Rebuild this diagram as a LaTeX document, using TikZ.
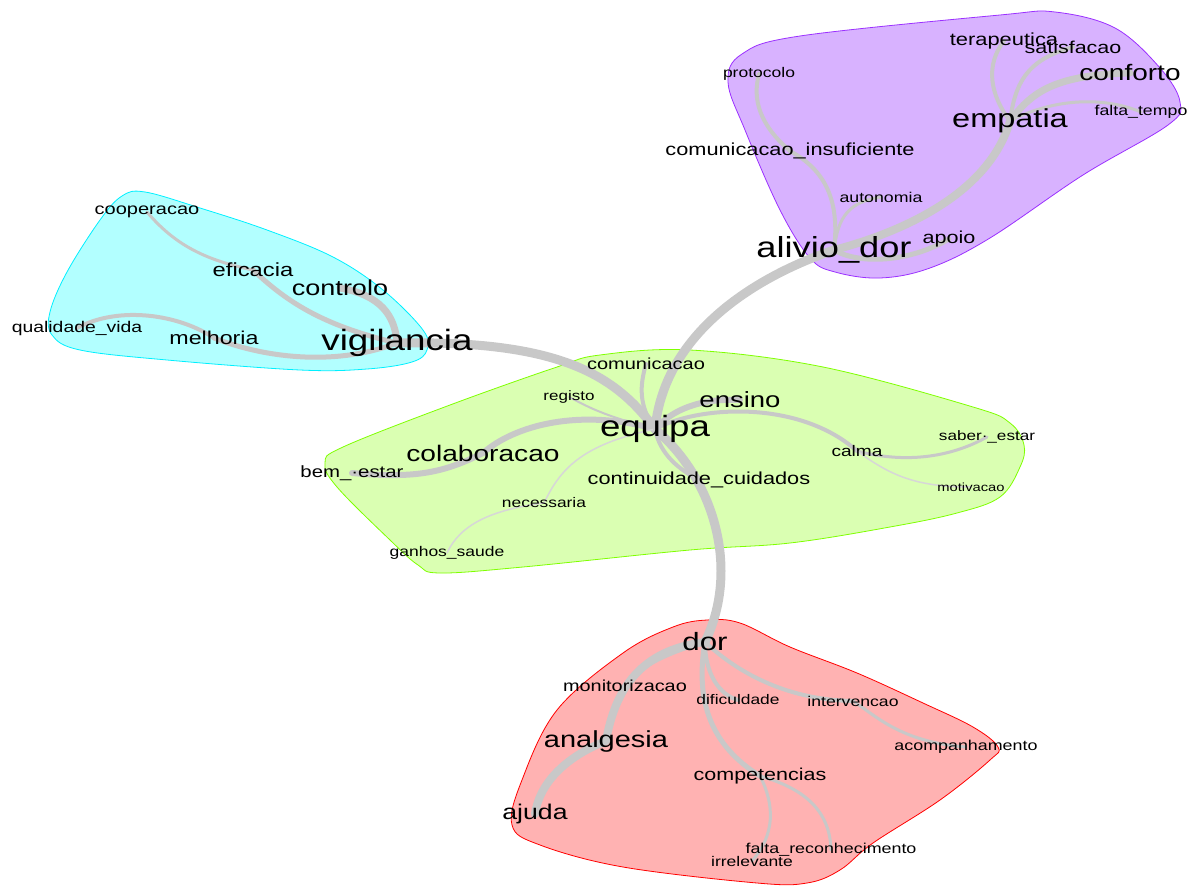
\documentclass[tikz,border=0pt]{standalone}
\usepackage{fontspec}
\setmainfont{Liberation Sans}[FakeStretch=1.25]
\definecolor{edgegray}{RGB}{200,200,200}
\definecolor{edgelight}{RGB}{215,215,215}
\definecolor{purplefill}{RGB}{216,178,255}
\definecolor{purpleline}{RGB}{155,48,255}
\definecolor{cyanfill}{RGB}{178,255,255}
\definecolor{cyanline}{RGB}{0,240,255}
\definecolor{greenfill}{RGB}{218,255,178}
\definecolor{greenline}{RGB}{127,255,0}
\definecolor{redfill}{RGB}{255,178,178}
\definecolor{redline}{RGB}{255,0,0}
\pgfdeclarelayer{hulls}
\pgfdeclarelayer{edges}
\pgfsetlayers{hulls,edges,main}
\tikzset{
  lbl/.style={inner sep=0pt, text=black},
  fs/.style={font=\fontsize{#1}{#1}\selectfont},
  lnk/.style={draw=edgegray, line width=#1, line cap=round},
  lite/.style={draw=edgelight},
  hull/.style={line width=0.8pt}
}
\begin{document}
\begin{tikzpicture}[x=1pt,y=-1pt]
\useasboundingbox (0,0) rectangle (1200,886);
% ---------- labels ----------
% purple
\node[lbl,fs=17.5] (terapeutica) at (1004,41) {terapeutica};
\node[lbl,fs=17.2] (satisfacao) at (1073,47) {satisfacao};
\node[lbl,fs=22.4] (conforto) at (1130,73) {conforto};
\node[lbl,fs=14] (protocolo) at (759,74) {protocolo};
\node[lbl,fs=26] (empatia) at (1010,121) {empatia};
\node[lbl,fs=14.2] (faltatempo) at (1141,112) {falta\_tempo};
\node[lbl,fs=17.4] (cominsuf) at (790,151) {comunicacao\_insuficiente};
\node[lbl,fs=14.2] (autonomia) at (881,197) {autonomia};
\node[lbl,fs=29] (aliviodor) at (834,250) {alivio\_dor};
\node[lbl,fs=17.3] (apoio) at (949,239) {apoio};
% cyan
\node[lbl,fs=16] (cooperacao) at (147,212) {cooperacao};
\node[lbl,fs=19] (eficacia) at (253,270) {eficacia};
\node[lbl,fs=21.6] (controlo) at (340,288) {controlo};
\node[lbl,fs=15.5] (qualidade) at (77,328) {qualidade\_vida};
\node[lbl,fs=18.6] (melhoria) at (214,338) {melhoria};
\node[lbl,fs=29.4] (vigilancia) at (397,343) {vigilancia};
% green
\node[lbl,fs=16] (comunicacao) at (646,364) {comunicacao};
\node[lbl,fs=13.6] (registo) at (569,397) {registo};
\node[lbl,fs=22] (ensino) at (740,400) {ensino};
\node[lbl,fs=29.3] (equipa) at (655,429) {equipa};
\node[lbl,fs=22.5] (colaboracao) at (483,453) {colaboracao};
\node[lbl,fs=16.3] (bemestar) at (352,473) {bem\_·estar};
\node[lbl,fs=15.3] (calma) at (857,451) {calma};
\node[lbl,fs=13.7] (saberestar) at (987,437) {saber·\_estar};
\node[lbl,fs=11.8] (motivacao) at (971,487) {motivacao};
\node[lbl,fs=17.4] (continuidade) at (699,480) {continuidade\_cuidados};
\node[lbl,fs=13.9] (necessaria) at (544,503) {necessaria};
\node[lbl,fs=14] (ganhos) at (447,553) {ganhos\_saude};
% red
\node[lbl,fs=25] (dor) at (705,642) {dor};
\node[lbl,fs=15.9] (monitorizacao) at (625,686) {monitorizacao};
\node[lbl,fs=13.9] (dificuldade) at (738,700) {dificuldade};
\node[lbl,fs=14.1] (intervencao) at (853,701) {intervencao};
\node[lbl,fs=14.3] (acompanhamento) at (966,747) {acompanhamento};
\node[lbl,fs=23.2] (analgesia) at (606,741) {analgesia};
\node[lbl,fs=17.2] (competencias) at (760,776) {competencias};
\node[lbl,fs=21.3] (ajuda) at (535,814) {ajuda};
\node[lbl,fs=14.3] (faltarec) at (831,850) {falta\_reconhecimento};
\node[lbl,fs=14] (irrelevante) at (752,861) {irrelevante};
% ---------- hulls ----------
\begin{pgfonlayer}{hulls}
\filldraw[hull, fill=purplefill, draw=purpleline] plot[smooth cycle, tension=0.6] coordinates {
 (728,82) (742,54) (800,36) (1000,15) (1055,12) (1115,28) (1160,68) (1180,102) (1168,125)
 (1083,175) (990,238) (930,268) (880,278) (835,272) (810,258) (780,210) (745,130)};
\filldraw[hull, fill=cyanfill, draw=cyanline] plot[smooth cycle, tension=0.6] coordinates {
 (145,192) (200,208) (267,230) (333,257) (383,290) (423,330) (427,350) (412,362) (367,369)
 (300,370) (167,360) (80,350) (52,335) (50,312) (67,272) (100,220) (122,196)};
\filldraw[hull, fill=greenfill, draw=greenline] plot[smooth cycle, tension=0.6] coordinates {
 (325,463) (343,447) (450,405) (557,367) (600,355) (690,350) (823,367) (973,407) (1010,423)
 (1024,445) (1020,467) (1000,497) (957,513) (890,527) (790,543) (690,550) (523,567) (440,573)
 (418,565) (390,540) (337,487)};
\filldraw[hull, fill=redfill, draw=redline] plot[smooth cycle, tension=0.6] coordinates {
 (707,620) (740,623) (790,647) (857,673) (923,703) (973,727) (998,747) (990,760) (940,800)
 (873,843) (840,870) (807,883) (757,883) (623,867) (540,845) (512,825) (522,780) (557,710)
 (623,653) (673,627)};
\end{pgfonlayer}
% ---------- edges ----------
\begin{pgfonlayer}{edges}
% trunk
\draw[lnk=9] (vigilancia.center) .. controls (560,340) and (615,375) .. (equipa.center);
\draw[lnk=9] (aliviodor.center) .. controls (760,275) and (665,330) .. (equipa.center);
\draw[lnk=9] (equipa.center) .. controls (715,480) and (740,570) .. (dor.center);
% purple
\draw[lnk=8] (aliviodor.center) .. controls (910,230) and (990,190) .. (empatia.center);
\draw[lnk=4] (aliviodor.center) .. controls (840,200) and (825,170) .. (cominsuf.center);
\draw[lnk=4] (cominsuf.center) .. controls (760,125) and (752,100) .. (protocolo.center);
\draw[lnk=3] (aliviodor.center) .. controls (838,215) and (850,202) .. (autonomia.center);
\draw[lnk=5] (aliviodor.center) .. controls (860,265) and (910,262) .. (apoio.center);
\draw[lnk=4] (empatia.center) .. controls (990,95) and (985,65) .. (terapeutica.center);
\draw[lnk=4] (empatia.center) .. controls (1015,85) and (1025,60) .. (satisfacao.center);
\draw[lnk=7] (empatia.center) .. controls (1030,95) and (1050,75) .. (conforto.center);
\draw[lnk=3] (empatia.center) .. controls (1050,100) and (1100,95) .. (faltatempo.center);
% cyan
\draw[lnk=7] (vigilancia.center) .. controls (395,315) and (380,295) .. (controlo.center);
\draw[lnk=5] (vigilancia.center) .. controls (320,325) and (285,300) .. (eficacia.center);
\draw[lnk=3] (eficacia.center) .. controls (205,260) and (175,245) .. (cooperacao.center);
\draw[lnk=5] (vigilancia.center) .. controls (340,365) and (270,360) .. (melhoria.center);
\draw[lnk=4] (melhoria.center) .. controls (180,315) and (120,305) .. (qualidade.center);
% green
\draw[lnk=4] (equipa.center) .. controls (638,405) and (640,385) .. (comunicacao.center);
\draw[lnk=6] (equipa.center) .. controls (672,410) and (700,398) .. (ensino.center);
\draw[lnk=4] (equipa.center) .. controls (700,405) and (800,400) .. (calma.center);
\draw[lnk=3] (calma.center) .. controls (910,465) and (955,455) .. (saberestar.center);
\draw[lnk=1.5, lite] (calma.center) .. controls (890,475) and (915,487) .. (motivacao.center);
\draw[lnk=6] (equipa.center) .. controls (580,408) and (515,425) .. (colaboracao.center);
\draw[lnk=6] (colaboracao.center) .. controls (440,475) and (410,478) .. (bemestar.center);
\draw[lnk=2] (registo.center) .. controls (585,405) and (600,415) .. (equipa.center);
\draw[lnk=1.5, lite] (equipa.center) .. controls (580,445) and (560,470) .. (necessaria.center);
\draw[lnk=1.5, lite] (necessaria.center) .. controls (490,510) and (460,525) .. (ganhos.center);
\draw[lnk=4] (equipa.center) .. controls (660,455) and (680,470) .. (continuidade.center);
% red
\draw[lnk=8] (dor.center) .. controls (640,650) and (615,690) .. (analgesia.center);
\draw[lnk=4] (dor.center) .. controls (660,655) and (635,670) .. (monitorizacao.center);
\draw[lnk=8] (analgesia.center) .. controls (570,755) and (540,780) .. (ajuda.center);
\draw[lnk=4] (dor.center) .. controls (705,675) and (720,695) .. (dificuldade.center);
\draw[lnk=4] (dor.center) .. controls (740,675) and (790,700) .. (intervencao.center);
\draw[lnk=3] (intervencao.center) .. controls (875,715) and (900,742) .. (acompanhamento.center);
\draw[lnk=5] (dor.center) .. controls (695,700) and (710,745) .. (competencias.center);
\draw[lnk=3] (competencias.center) .. controls (775,805) and (775,835) .. (irrelevante.center);
\draw[lnk=3] (competencias.center) .. controls (810,790) and (830,815) .. (faltarec.center);
\end{pgfonlayer}
\end{tikzpicture}
\end{document}
